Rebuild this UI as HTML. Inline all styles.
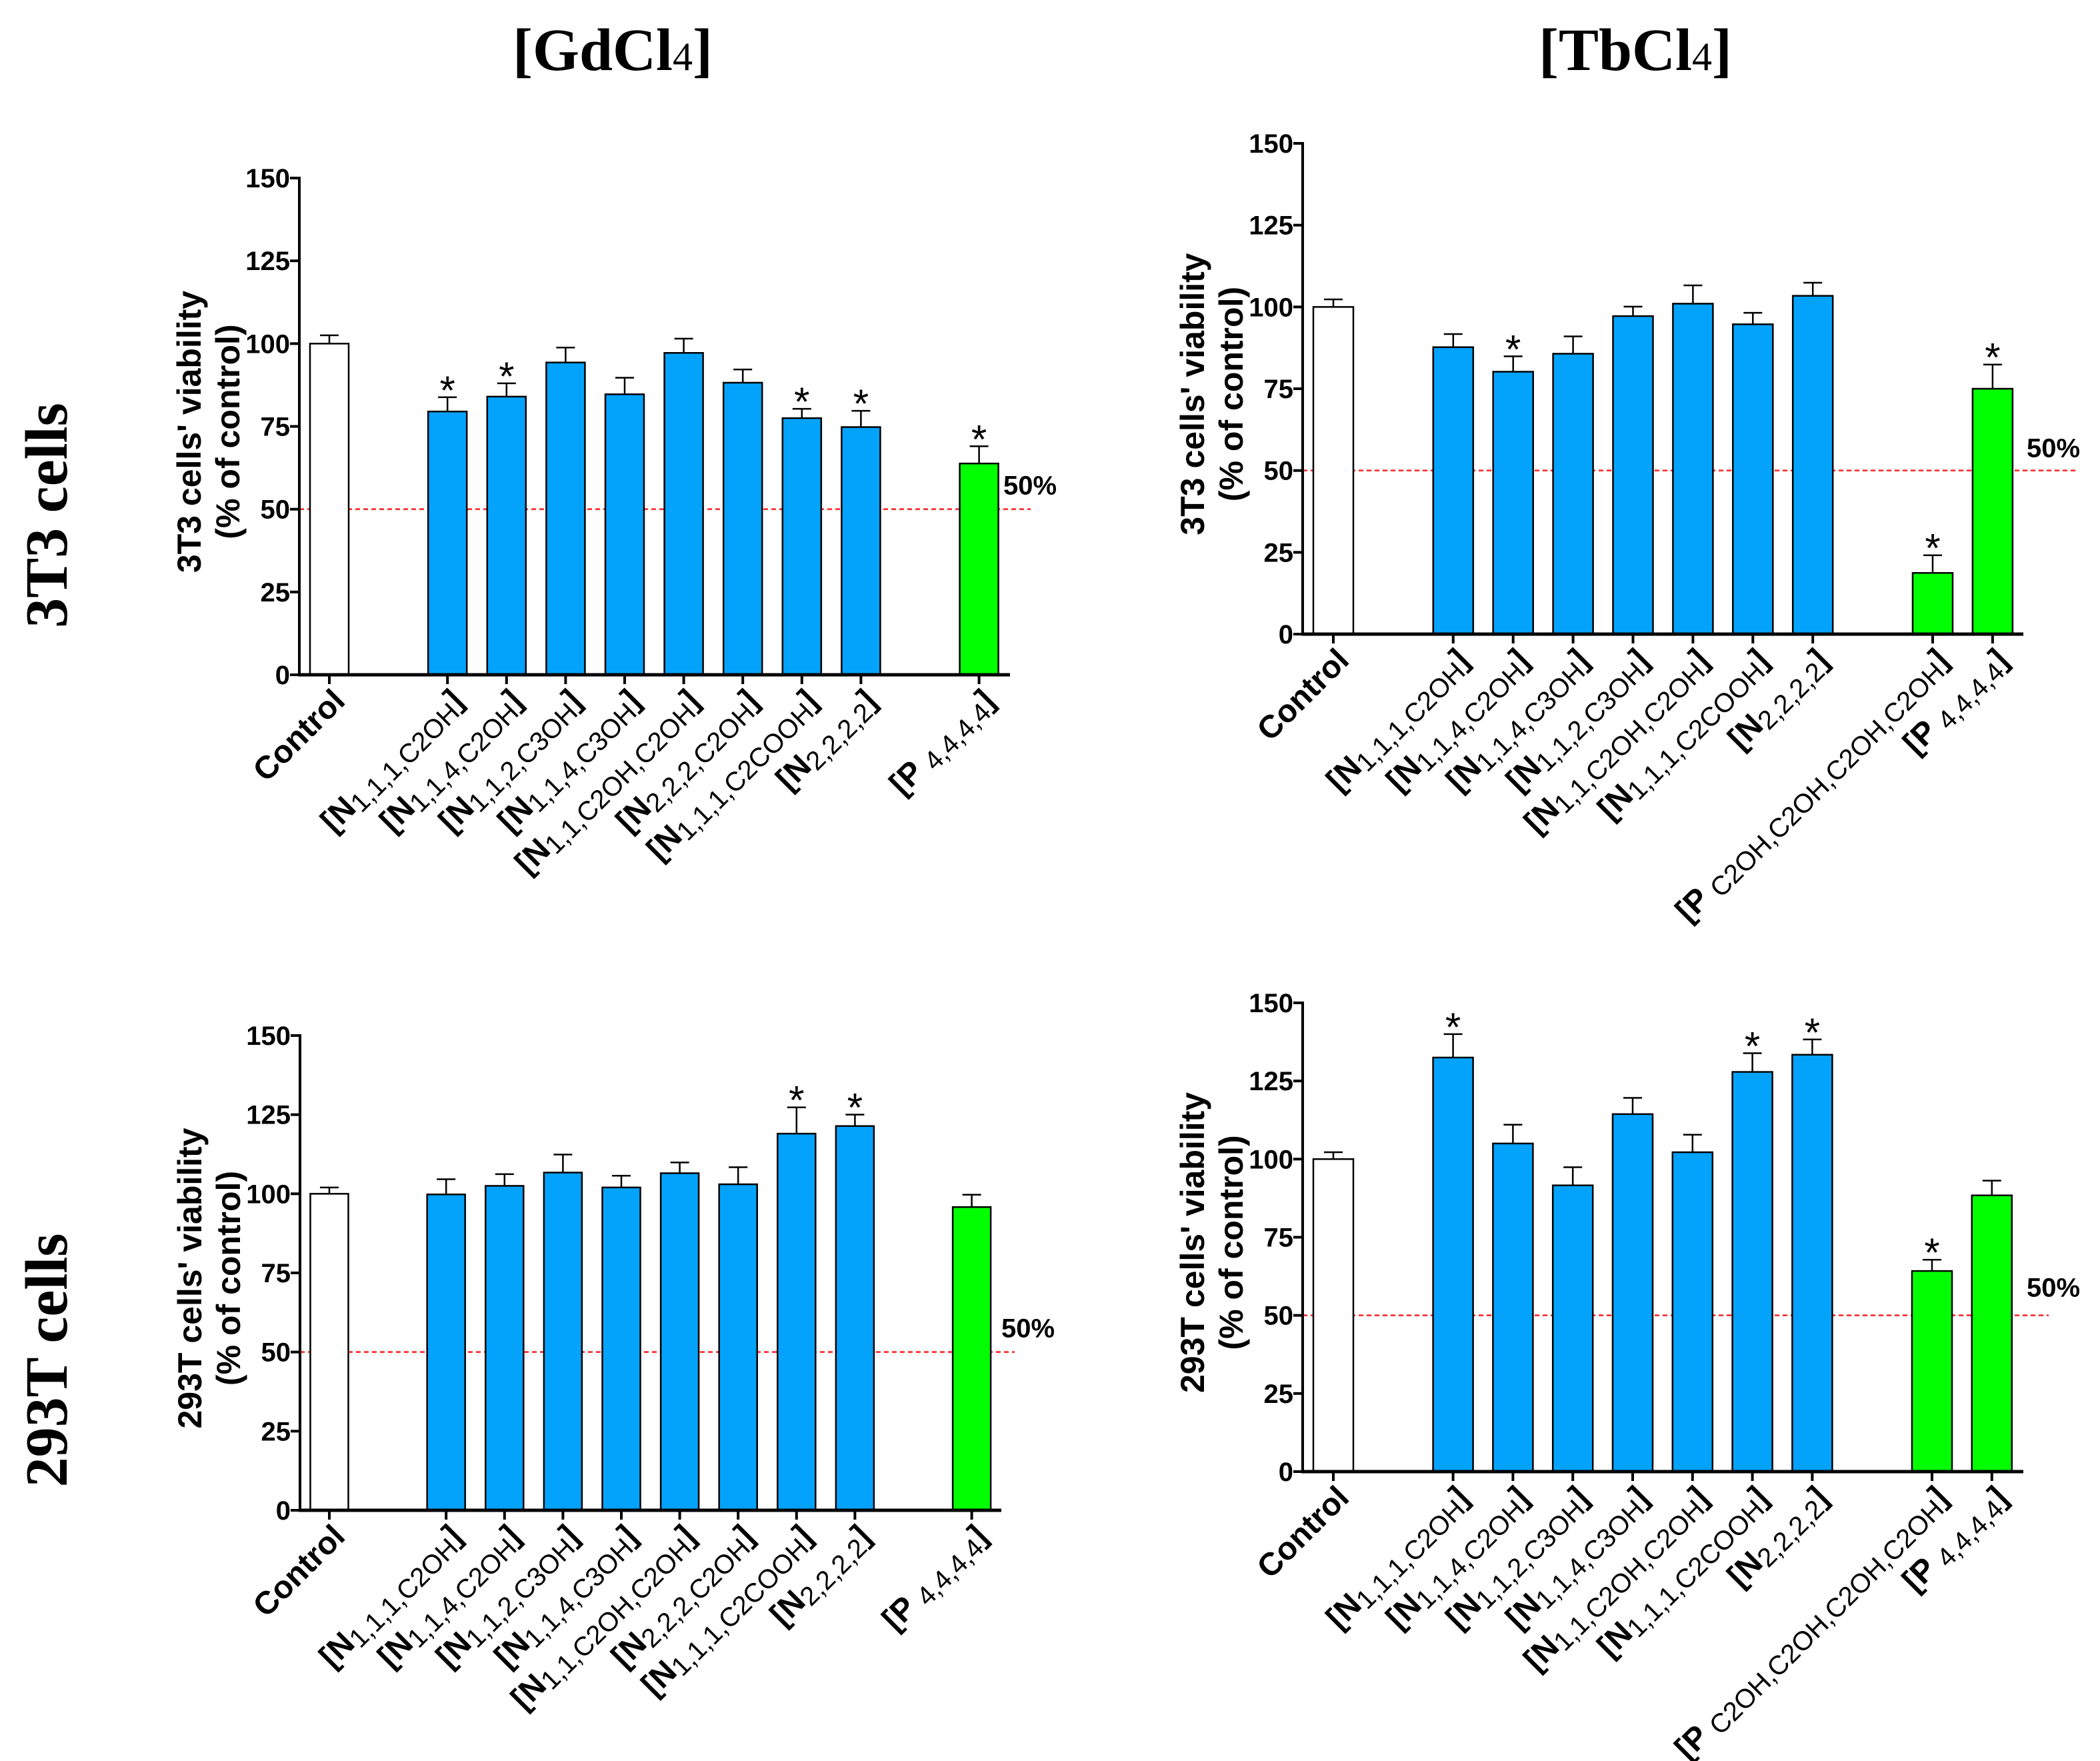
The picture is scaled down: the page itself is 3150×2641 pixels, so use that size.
<!DOCTYPE html>
<html><head><meta charset="utf-8"><style>
html,body{margin:0;padding:0;background:#fff;}
svg{display:block;}
.tick{font-family:"Liberation Sans Narrow","Liberation Sans",sans-serif;font-weight:bold;font-size:40px;}
.ytitle{font-family:"Liberation Sans",sans-serif;font-weight:bold;font-size:50px;}
.cat{font-family:"Liberation Sans",sans-serif;font-size:48px;font-weight:bold;}
.sub{font-weight:normal;font-size:40px;}
.hdr{font-family:"Liberation Serif",serif;font-weight:bold;font-size:90px;}
</style></head><body>
<svg id="fig" width="3150" height="2641" viewBox="0 0 3150 2641" xmlns="http://www.w3.org/2000/svg">
<text class="hdr" x="919" y="105" text-anchor="middle">[GdCl<tspan font-size="60" font-weight="normal">4</tspan>]</text>
<text class="hdr" x="2453" y="105" text-anchor="middle">[TbCl<tspan font-size="60" font-weight="normal">4</tspan>]</text>
<text class="hdr" x="0" y="0" transform="translate(100,773) rotate(-90)" text-anchor="middle">3T3 cells</text>
<text class="hdr" x="0" y="0" transform="translate(100,2040) rotate(-90)" text-anchor="middle">293T cells</text>
</svg>
<script>
// ---- data: top-left (3T3, GdCl4)
const tlCats = ["Control","N|1,1,1,C2OH","N|1,1,4,C2OH","N|1,1,2,C3OH","N|1,1,4,C3OH","N|1,1,C2OH,C2OH","N|2,2,2,C2OH","N|1,1,1,C2COOH","N|2,2,2,2","P|4,4,4,4"];
const tlSlots = [0,2,3,4,5,6,7,8,9,11];
const tlVals = [100,79.5,84,94.3,84.7,97.2,88.2,77.5,74.8,63.8];
const tlErrTop = [102.5,83.8,88,98.8,89.7,101.5,92.2,80.3,79.7,69];
const tlStars = [0,1,1,0,0,0,0,1,1,1];
const tlKinds = ["c","b","b","b","b","b","b","b","b","g"];
// ---- data: top-right (3T3, TbCl4)
const trCats = ["Control","N|1,1,1,C2OH","N|1,1,4,C2OH","N|1,1,4,C3OH","N|1,1,2,C3OH","N|1,1,C2OH,C2OH","N|1,1,1,C2COOH","N|2,2,2,2","P|C2OH,C2OH,C2OH,C2OH","P|4,4,4,4"];
const trSlots = [0,2,3,4,5,6,7,8,10,11];
const trVals = [100,87.7,80.2,85.7,97.2,101,94.7,103.4,18.7,75];
const trErrTop = [102.3,91.7,84.9,91,100.1,106.6,98.2,107.4,24.1,82.4];
const trStars = [0,0,1,0,0,0,0,0,1,1];
const trKinds = ["c","b","b","b","b","b","b","b","g","g"];
// ---- data: bottom-left (293T, GdCl4)
const blCats = ["Control","N|1,1,1,C2OH","N|1,1,4,C2OH","N|1,1,2,C3OH","N|1,1,4,C3OH","N|1,1,C2OH,C2OH","N|2,2,2,C2OH","N|1,1,1,C2COOH","N|2,2,2,2","P|4,4,4,4"];
const blSlots = [0,2,3,4,5,6,7,8,9,11];
const blVals = [100,99.8,102.5,106.7,102,106.5,103,119,121.4,95.8];
const blErrTop = [102,104.6,106.2,112.4,105.7,109.9,108.4,127.3,125,99.7];
const blStars = [0,0,0,0,0,0,0,1,1,0];
const blKinds = ["c","b","b","b","b","b","b","b","b","g"];
// ---- data: bottom-right (293T, TbCl4)
const brCats = ["Control","N|1,1,1,C2OH","N|1,1,4,C2OH","N|1,1,2,C3OH","N|1,1,4,C3OH","N|1,1,C2OH,C2OH","N|1,1,1,C2COOH","N|2,2,2,2","P|C2OH,C2OH,C2OH,C2OH","P|4,4,4,4"];
const brSlots = [0,2,3,4,5,6,7,8,10,11];
const brVals = [100,132.5,105,91.6,114.4,102.2,127.9,133.4,64.2,88.4];
const brErrTop = [102.2,140,111,97.4,119.6,107.8,133.9,138.3,67.8,93.1];
const brStars = [0,1,0,0,0,0,1,1,1,0];
const brKinds = ["c","b","b","b","b","b","b","b","g","g"];
const yTicks = [0,25,50,75,100,125,150];

const NS = "http://www.w3.org/2000/svg";
const svg = document.getElementById("fig");
function mk(tag, attrs, parent){
  const e = document.createElementNS(NS, tag);
  for (const k in attrs) e.setAttribute(k, attrs[k]);
  (parent||svg).appendChild(e);
  return e;
}
const fills = {c:"#ffffff", b:"#03a3fb", g:"#00ff00"};

function drawPanel(id, geo, cats, slots, vals, errs, stars, kinds, yTitle){
  const g = mk("g", {});
  
  
  const ys = v => geo.y0 - (v/150)*(geo.y0 - geo.y150);
  const xs = s => geo.c0 + s*geo.step;
  const dl = mk("line", {x1:geo.ax, x2:geo.lineEnd, y1:ys(50), y2:ys(50), stroke:"#ff2020", "stroke-width":2.5, "stroke-dasharray":"7,5"}, g);
  
  
  const fl = mk("text", {x:geo.lblX, y:ys(50)-geo.lblDy, class:"tick"}, g);
  fl.textContent = "50%";
  
  
  for (let i=0;i<vals.length;i++){
    const cx = xs(slots[i]);
    const eb = mk("path", {d:`M${cx},${ys(vals[i])} V${ys(errs[i])} M${cx-14},${ys(errs[i])} H${cx+14}`, stroke:"#000", "stroke-width":2.5, fill:"none"}, g);
    
    
    const r = mk("rect", {x:cx-geo.bw/2, y:ys(vals[i]), width:geo.bw, height:ys(0)-ys(vals[i]), fill:fills[kinds[i]], stroke:"#000", "stroke-width":2.5}, g);
    
    
    if (stars[i]){
      const st = mk("text", {x:cx, y:ys(errs[i])+10, "text-anchor":"middle", "font-family":"Liberation Sans,sans-serif", "font-size":60}, g);
      st.textContent = "*";
      
      
    }
    mk("line", {x1:cx, x2:cx, y1:geo.y0, y2:geo.y0+14, stroke:"#000", "stroke-width":4}, g);
    const ax = cx + 26, ay = geo.y0 + 42;
    const t = mk("text", {x:ax, y:ay, "text-anchor":"end", class:"cat", transform:`rotate(-45 ${ax} ${ay})`}, g);
    
    
    const c = cats[i];
    if (c.indexOf("|")<0){ t.textContent = c; }
    else {
      const [m, s] = c.split("|");
      const a = mk("tspan", {}, t); a.textContent = "[" + m + (m==="P"?" ":"");
      const b = mk("tspan", {class:"sub", dy:8}, t); b.textContent = s;
      const d = mk("tspan", {dy:-8}, t); d.textContent = "]";
    }
  }
  mk("line", {x1:geo.ax, x2:geo.ax, y1:geo.y150-2, y2:geo.y0+2, stroke:"#000", "stroke-width":4}, g);
  const xa = mk("line", {x1:geo.ax-2, x2:geo.axEnd, y1:geo.y0, y2:geo.y0, stroke:"#000", "stroke-width":5}, g);
  
  
  for (const v of yTicks){
    mk("line", {x1:geo.ax-14, x2:geo.ax, y1:ys(v), y2:ys(v), stroke:"#000", "stroke-width":4}, g);
    const tl = mk("text", {x:geo.ax-14, y:ys(v)+14, "text-anchor":"end", class:"tick"}, g);
    tl.textContent = v;
    
    
  }
  const cy = (geo.y0 + geo.y150)/2 + 8;
  const t1 = mk("text", {x:0, y:0, "text-anchor":"middle", class:"ytitle", transform:`translate(${geo.ax-148},${cy}) rotate(-90)`}, g);
  t1.textContent = yTitle;
  
  
  const t2 = mk("text", {x:0, y:0, "text-anchor":"middle", class:"ytitle", transform:`translate(${geo.ax-90},${cy}) rotate(-90)`}, g);
  t2.textContent = "(% of control)";
  
  
}

drawPanel("tl", {ax:449, y150:267, y0:1012, c0:494, step:88.6, bw:58, axEnd:1515, lineEnd:1546, lblX:1505, lblDy:22},
  tlCats, tlSlots, tlVals, tlErrTop, tlStars, tlKinds, "3T3 cells'  viability");
drawPanel("tr", {ax:1954, y150:215, y0:951, c0:2000, step:89.9, bw:60, axEnd:3035, lineEnd:3113, lblX:3040, lblDy:20},
  trCats, trSlots, trVals, trErrTop, trStars, trKinds, "3T3 cells'  viability");
drawPanel("bl", {ax:450, y150:1553, y0:2265, c0:494, step:87.6, bw:57, axEnd:1502, lineEnd:1522, lblX:1502, lblDy:22},
  blCats, blSlots, blVals, blErrTop, blStars, blKinds, "293T cells'  viability");
drawPanel("br", {ax:1954, y150:1504, y0:2207, c0:2000, step:89.8, bw:60, axEnd:3035, lineEnd:3073, lblX:3040, lblDy:28},
  brCats, brSlots, brVals, brErrTop, brStars, brKinds, "293T cells'  viability");
</script>
</body></html>
